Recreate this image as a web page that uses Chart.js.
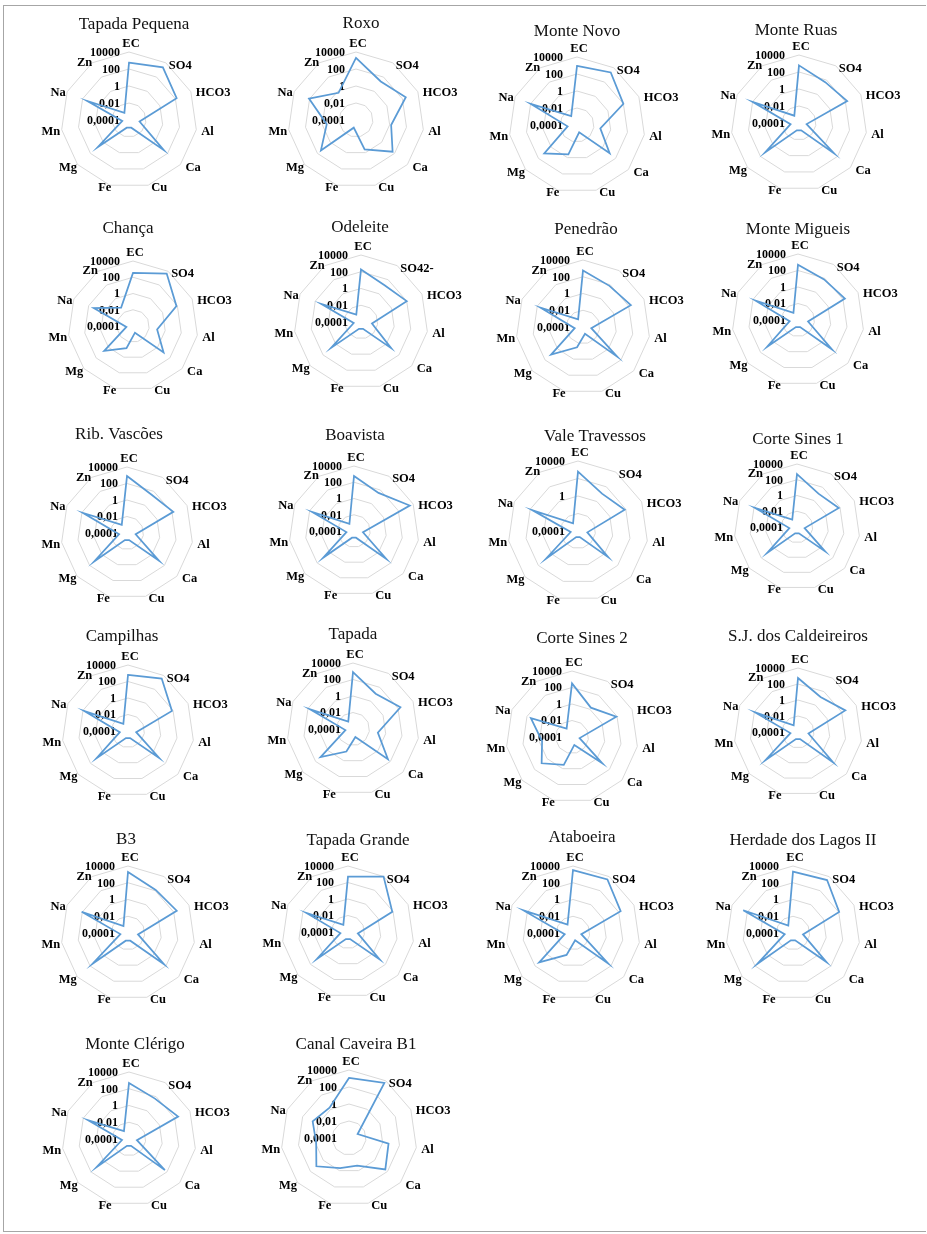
<!DOCTYPE html>
<html>
<head>
<meta charset="utf-8">
<script src="https://cdn.jsdelivr.net/npm/chart.js@4.4.0/dist/chart.umd.min.js"></script>
<style>
  html, body { margin: 0; padding: 0; background: #ffffff; }
  body { width: 927px; height: 1234px; position: relative; overflow: hidden; }
  #frame { position: absolute; left: 3px; top: 5px; width: 923px; height: 1227px;
           border: 1px solid #a6a6a6; border-right: none; box-sizing: border-box; }
  canvas { position: absolute; }
</style>
</head>
<body>
<div id="frame"></div>
<script>
// Parameters measured at each reservoir (log scale)
const parameters = ['EC', 'SO4', 'HCO3', 'Al', 'Ca', 'Cu', 'Fe', 'Mg', 'Mn', 'Na', 'Zn'];
const parametersOdeleite = ['EC', 'SO42-', 'HCO3', 'Al', 'Ca', 'Cu', 'Fe', 'Mg', 'Mn', 'Na', 'Zn'];

// Radial axis ticks (values and their printed labels)
const tickValues = [0.0001, 0.01, 1, 100, 10000];
const tickLabels = ['0,0001', '0,01', '1', '100', '10000'];

const siteNames = [
  'Tapada Pequena', 'Roxo', 'Monte Novo', 'Monte Ruas',
  'Chança', 'Odeleite', 'Penedrão', 'Monte Migueis',
  'Rib. Vascões', 'Boavista', 'Vale Travessos', 'Corte Sines 1',
  'Campilhas', 'Tapada', 'Corte Sines 2', 'S.J. dos Caldeireiros',
  'B3', 'Tapada Grande', 'Ataboeira', 'Herdade dos Lagos II',
  'Monte Clérigo', 'Canal Caveira B1'
];

// Values per site, in the order of `parameters`
const tapadaPequena  = [560, 2350, 145, 0.0018, 26, 0.00087, 0.00087, 6.9, 0.00063, 24, 0.001];
const roxo           = [2000, 24.5, 275, 1.5, 50, 0.4, 0.00087, 29, 0.3, 120, 0.63];
const monteNovo      = [890, 2200, 100, 0.059, 12, 0.0008, 0.4, 12.6, 0.0013, 100, 0.0018];
const monteRuas      = [600, 51, 170, 0.0008, 30, 0.0008, 0.0008, 19, 0.001, 100, 0.00105];
const chanca         = [340, 4700, 76, 0.1, 9.5, 0.00072, 0.07, 4.9, 0.00066, 20, 0.05];
const odeleite       = [190, 16, 100, 0.0021, 5.8, 0.0007, 0.0007, 5.3, 0.00076, 16, 0.0011];
const penedrao       = [575, 69, 190, 0.001, 25, 0.0007, 0.033, 11, 0.001, 36, 0.0012];
const monteMigueis   = [500, 71, 178, 0.0017, 30, 0.0008, 0.0008, 9, 0.00105, 44, 0.00105];
const ribVascoes     = [800, 33, 148, 0.00115, 14, 0.0008, 0.0008, 19, 0.00093, 71, 0.0015];
const boavista       = [590, 38, 3500, 0.0013, 18, 0.00072, 0.00072, 11, 0.00087, 46, 0.0011];
const valeTravessos  = [600, 12, 74, 0.0012, 3.7, 0.00052, 0.00052, 7, 0.0007, 56, 0.0011];
const corteSines1    = [525, 11, 68, 0.00095, 5.3, 0.0007, 0.0007, 10.5, 0.00095, 74, 0.0013];
const campilhas      = [615, 3600, 72, 0.001, 10, 0.00078, 0.00078, 11, 0.001, 66, 0.0011];
const tapada         = [800, 12, 210, 0.11, 40, 0.00105, 0.07, 16, 0.00085, 54, 0.00115];
const corteSines2    = [316, 1.7, 80, 0.00085, 7.4, 0.001, 0.34, 7.4, 0.46, 30, 0.0016];
const sjCaldeireiros = [560, 16, 316, 0.0021, 68, 0.00083, 0.00083, 25, 0.0009, 83, 0.001];
const b3             = [1900, 130, 250, 0.0016, 48, 0.0009, 0.0009, 40, 0.00083, 120, 0.001];
const tapadaGrande   = [500, 9500, 80, 0.0016, 12, 0.0008, 0.0008, 10, 0.00085, 35, 0.0011];
const ataboeira      = [3300, 4000, 180, 0.001, 35, 0.0008, 0.054, 22, 0.001, 316, 0.0016];
const herdadeLagos   = [2100, 3300, 115, 0.0016, 20, 0.0008, 0.0008, 46, 0.001, 340, 0.0011];
const monteClerigo   = [490, 54, 280, 0.0009, 47, 0.0007, 0.0007, 13.5, 0.0007, 23, 0.0013];
const canalCaveiraB1 = [1150, 5000, 0.0013, 5, 45, 0.25, 0.5, 12, 0.8, 5, 1.7];

const siteValues = [
  tapadaPequena, roxo, monteNovo, monteRuas,
  chanca, odeleite, penedrao, monteMigueis,
  ribVascoes, boavista, valeTravessos, corteSines1,
  campilhas, tapada, corteSines2, sjCaldeireiros,
  b3, tapadaGrande, ataboeira, herdadeLagos,
  monteClerigo, canalCaveiraB1
];

// Page placement of each radar: [centreX, centreY, radius, titleX, titleY, tickGap]
const placement = [
  [129, 120, 68, 134, 23, 9],    [356, 120, 68, 361, 22, 11],   [577, 125, 68, 577, 30, 14],   [799, 123, 68, 796, 29, 14],
  [133, 326, 65, 128, 227, 13],  [361, 322, 67, 360, 226, 13],  [583, 327, 67, 586, 228, 13],  [798, 320, 66, 798, 228, 12],
  [127, 533, 66, 119, 433, 9],   [354, 531, 65, 355, 434, 12],  [578, 531, 70, 595, 435, 13],  [797, 527, 63, 798, 438, 14],
  [128, 731, 66, 122, 635, 12],  [353, 729, 66, 353, 633, 12],  [572, 737, 66, 582, 637, 10],  [798, 732, 64, 798, 635, 13],
  [128, 933, 67, 126, 838, 13],  [348, 932, 66, 358, 839, 14],  [573, 933, 67, 582, 836, 13],  [793, 933, 67, 803, 839, 14],
  [129, 1139, 67, 135, 1043, 11], [349, 1138, 68, 356, 1043, 12]
];
// Sites whose radial labels show every other tick only
const sparseTickSites = ['Vale Travessos'];

const SERIF = '"Liberation Serif", "Times New Roman", serif';
const CANVAS_W = 250, CANVAS_H = 215, ORIGIN_X = 120, ORIGIN_Y = 115;

// Where each parameter name sits relative to its axis end: [align, dx, dy]
const labelOffsets = [
  ['center', 2, -9.5], ['left', 3, 2], ['left', 5, 0.5], ['left', 5, 1.3],
  ['left', 5, 2], ['left', 3, 1.5], ['right', 1.5, 1.5], ['right', -0.6, 2],
  ['right', -1.4, 1.3], ['right', -1.4, 0.5], ['right', 0, -1]
];

function textAtCenterline(ctx, text, x, yMid, size) {
  ctx.textBaseline = 'alphabetic';
  ctx.fillText(text, x, yMid + size * 0.33);
}

const annotatePlugin = {
  id: 'annotate',
  beforeDatasetsDraw(chart) {
    const o = chart.options.plugins.annotate;
    const s = chart.scales.r;
    const ctx = chart.ctx;
    ctx.save();
    ctx.fillStyle = '#000000';
    // radial tick labels, right-aligned beside the vertical axis
    ctx.font = 'bold 12px ' + SERIF;
    ctx.textAlign = 'right';
    tickValues.forEach((v, i) => {
      if (o.sparse && i % 2 === 1) return;
      const r = s.getDistanceFromCenterForValue(Math.log10(v));
      textAtCenterline(ctx, tickLabels[i], s.xCenter - o.tickGap, s.yCenter - r, 12);
    });
    // parameter names around the web
    ctx.font = 'bold 12.5px ' + SERIF;
    o.labels.forEach((lab, i) => {
      const p = s.getPointPosition(i, s.drawingArea);
      const [align, dx, dy] = labelOffsets[i];
      ctx.textAlign = align;
      textAtCenterline(ctx, lab, p.x + dx, p.y + dy, 12.5);
    });
    // site name
    ctx.font = '17px ' + SERIF;
    ctx.textAlign = 'center';
    ctx.fillStyle = '#111111';
    textAtCenterline(ctx, o.title, o.titleX, o.titleY, 17);
    ctx.restore();
  }
};

siteNames.forEach((name, k) => {
  const [cx, cy, R, tx, ty, gap] = placement[k];
  const canvas = document.createElement('canvas');
  canvas.width = CANVAS_W;
  canvas.height = CANVAS_H;
  const left = cx - ORIGIN_X, top = cy - ORIGIN_Y;
  canvas.style.left = left + 'px';
  canvas.style.top = top + 'px';
  canvas.style.width = CANVAS_W + 'px';
  canvas.style.height = CANVAS_H + 'px';
  document.body.appendChild(canvas);

  const labels = name === 'Odeleite' ? parametersOdeleite : parameters;

  new Chart(canvas, {
    type: 'radar',
    data: {
      labels: labels,
      datasets: [{
        data: siteValues[k].map(v => Math.log10(v)),
        borderColor: '#5B9BD5',
        borderWidth: 1.75,
        pointRadius: 0,
        pointHoverRadius: 0,
        fill: false,
        tension: 0
      }]
    },
    options: {
      responsive: false,
      animation: false,
      events: [],
      devicePixelRatio: 1,
      layout: {
        padding: {
          left: ORIGIN_X - R,
          top: ORIGIN_Y - R,
          right: CANVAS_W - ORIGIN_X - R,
          bottom: CANVAS_H - ORIGIN_Y - R
        }
      },
      plugins: {
        legend: { display: false },
        tooltip: { enabled: false },
        annotate: {
          labels: labels,
          title: name,
          titleX: tx - left,
          titleY: ty - top,
          tickGap: gap,
          sparse: sparseTickSites.includes(name)
        }
      },
      scales: {
        r: {
          min: -4,
          max: 4,
          ticks: { display: false, stepSize: 2 },
          grid: { color: '#d9d9d9', lineWidth: 1 },
          angleLines: { display: false },
          pointLabels: { display: false }
        }
      }
    },
    plugins: [annotatePlugin]
  });
});
</script>
</body>
</html>
